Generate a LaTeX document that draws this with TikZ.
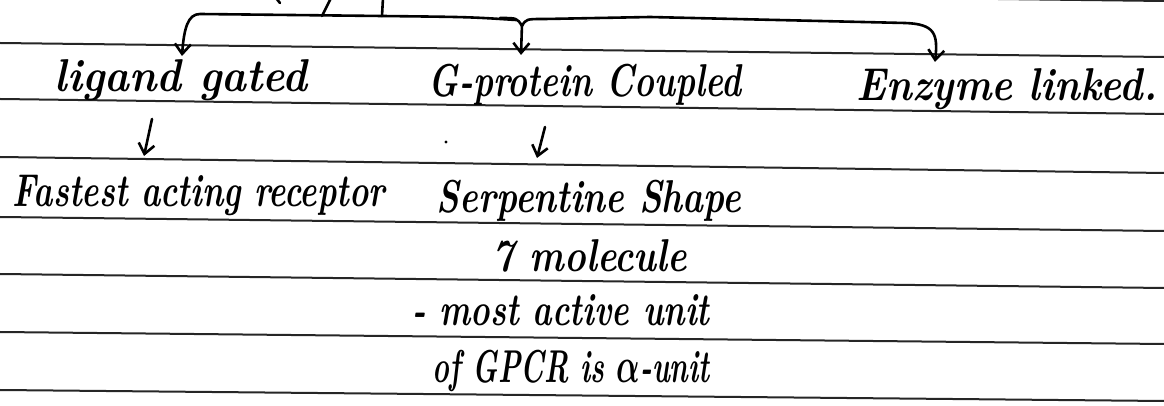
\documentclass[tikz,border=0pt]{standalone}
\usepackage{graphicx}
\usetikzlibrary{arrows.meta}
\newcommand{\handfont}{\fontsize{23}{27}\selectfont\itshape\bfseries\boldmath}
\newcommand{\fitw}[2]{\resizebox{#1}{\height}{#2}}
\tikzset{
  ruleline/.style={line width=1pt, black!85},
  pen/.style={line width=1.3pt, line cap=round, line join=round},
  arr/.style={pen, -{Straight Barb[length=5pt,width=8pt,line width=1.3pt]}},
  txt/.style={anchor=base, inner sep=0pt, font=\handfont},
}
\begin{document}
\begin{tikzpicture}[x=0.5pt, y=-0.5pt]
\useasboundingbox (0,0) rectangle (1164,406);
\fill[white] (0,0) rectangle (1164,406);
\begin{scope}
\clip (0,0) rectangle (1164,406);
% ruled lines of the notebook page
\foreach \yl/\yr in {-13/1, 43/57, 99/114, 157/173, 217/231, 274/288, 332/344, 390/401}
  \draw[ruleline] (0,\yl) -- (1164,\yr);

% text nodes
\node[txt] (lig)  at (181,92)  {\fitw{126pt}{ligand gated}};
\node[txt] (gpc)  at (585,97)  {\fitw{156pt}{G-protein Coupled}};
\node[txt] (enz)  at (1007,101) {\fitw{150pt}{Enzyme linked.}};
\node[txt] (fast) at (199,207) {\fitw{186pt}{Fastest acting receptor}};
\node[txt] (serp) at (589,213) {\fitw{152pt}{Serpentine Shape}};
\node[txt] (mol)  at (590,272) {\fitw{97pt}{7 molecule}};
\node[txt] (act)  at (561,326) {\fitw{148.5pt}{- most active unit}};
\node[txt] (gpcr) at (571,383) {\fitw{138.5pt}{of GPCR is $\alpha$-unit}};

% bracket from above
\coordinate (s1b) at (322,16);
\coordinate (s1t) at (331,-2);
\coordinate (s2b) at (382,16);
\coordinate (s2t) at (383,-2);
\coordinate (t1) at (182,56);
\coordinate (t2) at (521,55);
\coordinate (t3) at (935,62);
\draw[pen] (s1b) -- (s1t);
\draw[pen] (s2b) -- (s2t);
\draw[pen] (276,-2) -- (280,3);
\draw[arr] (516,20) .. controls (470,17) .. (382,16) -- (200,14)
  .. controls (188,14) and (184,28) .. (t1);
\draw[pen] (500,18) .. controls (517,18) .. (522,26);
\draw[arr] (522,24) -- (t2);
\draw[arr] (522,26) .. controls (526,19) .. (545,19) -- (650,17) -- (905,23)
  .. controls (935,24) and (938,34) .. (t3);

% small arrows
\coordinate (a1) at (152,119);
\coordinate (a2) at (545,127);
\draw[arr] (a1) -- (144,156);
\draw[arr] (a2) -- (537,158);
\fill (446,142) circle (1.6);
\end{scope}
\end{tikzpicture}
\end{document}
